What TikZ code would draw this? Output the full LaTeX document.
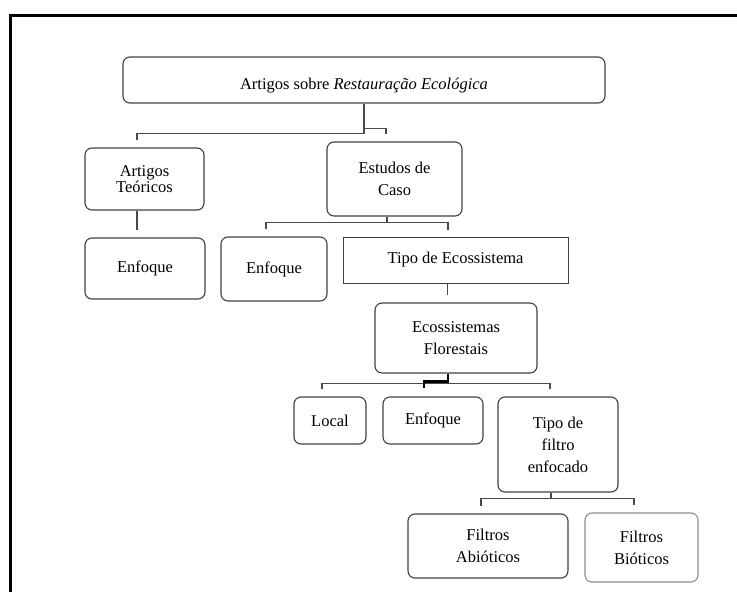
\documentclass[tikz,border=0pt]{standalone}
\usepackage{fontspec}
\setmainfont{Liberation Serif}
\definecolor{boxgray}{HTML}{404040}
\definecolor{linegray}{HTML}{4A4A4A}
\definecolor{lightgray}{HTML}{8E8E8E}
\begin{document}
\begin{tikzpicture}[x=1pt,y=-1pt,
                    font=\fontsize{16.5}{22}\selectfont,
                    box/.style={draw=boxgray,line width=1.1pt,rounded corners=7pt,align=center,inner sep=0pt},
                    link/.style={draw=linegray,line width=1.1pt,shorten >=7pt},
                    glitch/.style={draw=black,line width=2.8pt,shorten >=8pt}]
  \useasboundingbox (0,0) rectangle (737,592);
  \draw[line width=3pt] (10,592) -- (10,15) -- (737,15);

  \node[box,minimum width=482,minimum height=46,text height=22pt,text depth=4pt] (root) at (364,80)
    {Artigos sobre \textit{Restauração Ecológica}};
  \node[box,minimum width=119,minimum height=62,font=\fontsize{16.5}{16}\selectfont] (teoricos)
    [below of=root,node distance=99pt,xshift=-219.5pt] {Artigos\\Teóricos};
  \node[box,minimum width=135,minimum height=74] (estudos)
    [below of=root,node distance=99pt,xshift=30.5pt] {Estudos de\\Caso};
  \node[box,minimum width=120,minimum height=61] (enfoqueA)
    [below of=teoricos,node distance=89.5pt,xshift=0.5pt] {Enfoque};
  \node[box,minimum width=106,minimum height=64] (enfoqueB)
    [below of=estudos,node distance=90pt,xshift=-120.5pt] {Enfoque};
  \node[box,rounded corners=0pt,line width=1pt,minimum width=225,minimum height=46] (tipoeco)
    [below of=estudos,node distance=81pt,xshift=61pt] {Tipo de Ecossistema};
  \node[box,minimum width=162,minimum height=70] (florestais)
    [below of=tipoeco,node distance=78pt,xshift=0.5pt] {Ecossistemas\\Florestais};
  \node[box,minimum width=72,minimum height=47] (local)
    [below of=florestais,node distance=82.5pt,xshift=-126pt] {Local};
  \node[box,minimum width=100,minimum height=47] (enfoqueC)
    [right of=local,node distance=103pt] {Enfoque};
  \node[box,minimum width=120,minimum height=95] (tipofiltro)
    [below of=florestais,node distance=106.5pt,xshift=102pt] {Tipo de\\filtro\\enfocado};
  \node[box,minimum width=160,minimum height=64] (abioticos)
    [below of=tipofiltro,node distance=101.5pt,xshift=-70pt] {Filtros\\Abióticos};
  \node[box,draw=lightgray,minimum width=113,minimum height=69] (bioticos)
    [right of=abioticos,node distance=153.5pt,yshift=-1.5pt] {Filtros\\Bióticos};

  \draw[link] (root.south) -- ++(0,30) -| ([xshift=-7.5pt]teoricos.north);
  \draw[link] (root.south) ++(0,25) -| ([xshift=-8.5pt]estudos.north);
  \draw[link] ([xshift=-7.5pt]teoricos.south) -- ([xshift=-8pt]enfoqueA.north);
  \draw[link] ([xshift=-7.5pt]estudos.south) -- ++(0,6) -| ([xshift=-8pt]enfoqueB.north);
  \draw[link] ([xshift=-7.5pt]estudos.south) -- ++(0,6) -| ([xshift=-7.5pt]tipoeco.north);
  \draw[link] ([xshift=-8pt]tipoeco.south) -- ([xshift=-8.5pt]florestais.north);
  \draw[link] ([xshift=-8pt]local.north) ++(0,-7) -- ++(0,-6) -| ([xshift=-8pt]tipofiltro.north);
  \draw[glitch] ([xshift=-8pt]florestais.south) -- ++(0,8) -| ([xshift=-9pt]enfoqueC.north);
  \draw[link] ([xshift=-7pt]tipofiltro.south) -- ++(0,6) -| ([xshift=-7pt]abioticos.north);
  \draw[link] ([xshift=-7pt]tipofiltro.south) -- ++(0,6) -| ([xshift=-7.5pt]bioticos.north);
\end{tikzpicture}
\end{document}
